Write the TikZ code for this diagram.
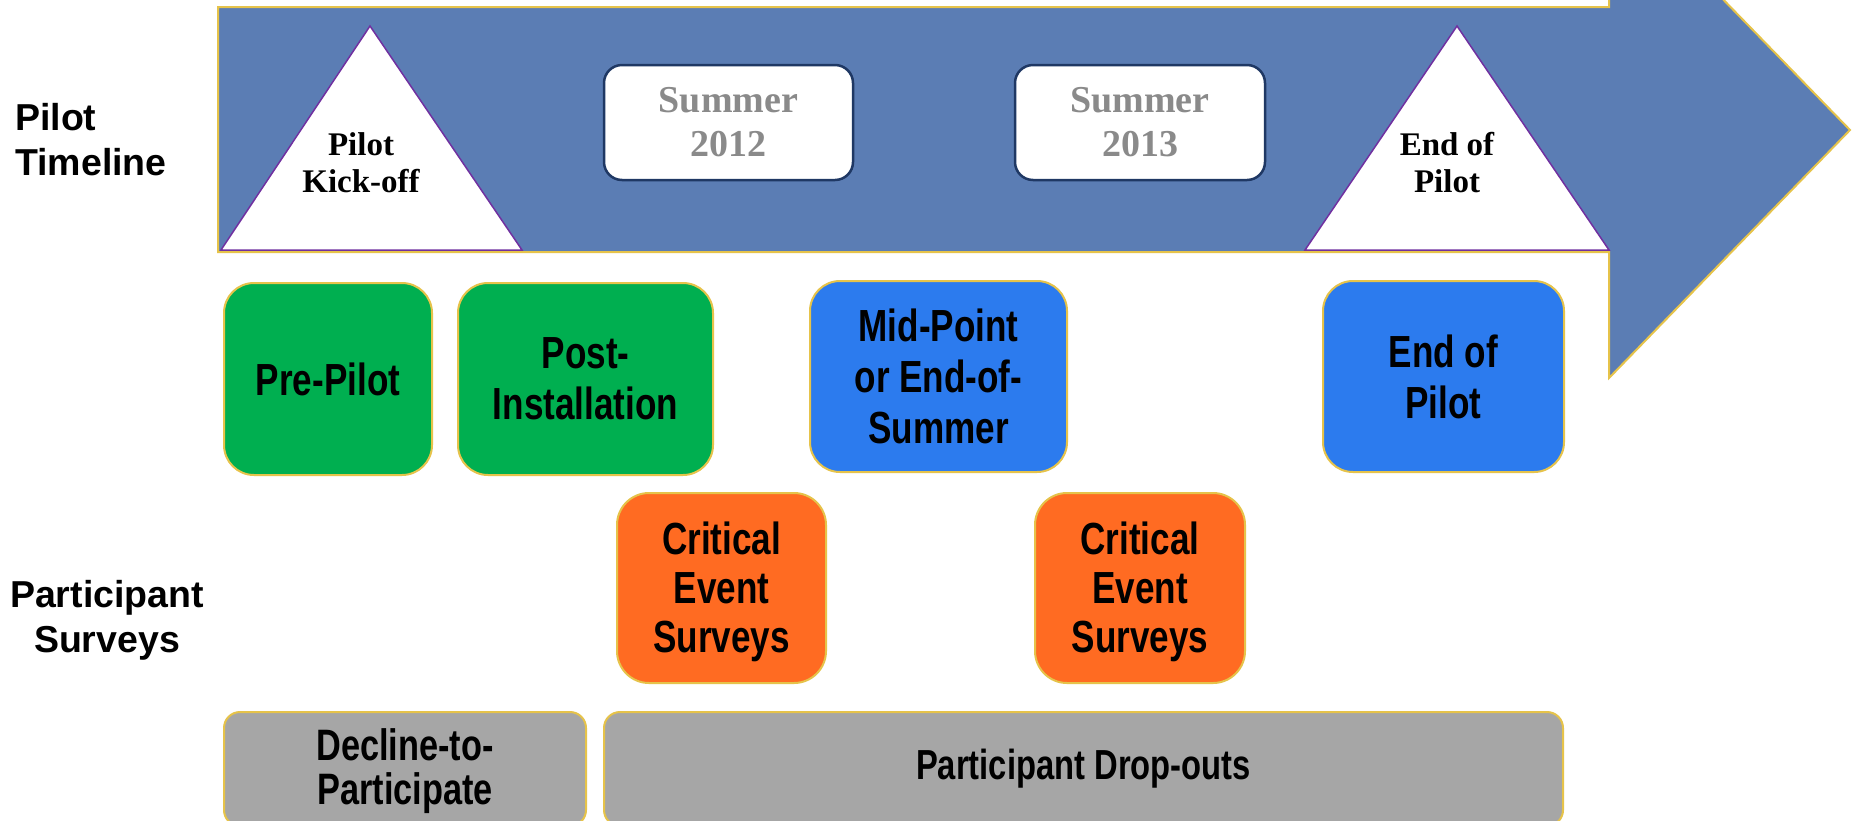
\documentclass[tikz,border=0pt]{standalone}
\usepackage{fontspec}
\newfontfamily\headfont{Liberation Sans}
\newfontfamily\boxfont{Liberation Sans}[FakeStretch=0.78]
\newfontfamily\markfont{Liberation Serif}
\definecolor{arrowblue}{HTML}{5B7DB4}
\definecolor{goldline}{HTML}{E6C34A}
\definecolor{markline}{HTML}{7030A0}
\definecolor{navyline}{HTML}{1F3864}
\definecolor{seasongrey}{HTML}{8A8A8A}
\definecolor{surveygreen}{HTML}{00AF50}
\definecolor{surveyblue}{HTML}{2C7BEE}
\definecolor{eventorange}{HTML}{FF6B22}
\definecolor{dropgrey}{HTML}{A6A6A6}
\tikzset{
  px/.style={x=1pt,y=-1pt},
  survey/.style={draw=goldline, line width=2pt, rounded corners=30pt,
    align=center, inner sep=0pt, text=black,
    font=\boxfont\bfseries\fontsize{45}{51}\selectfont},
  greenbox/.style={survey, fill=surveygreen},
  bluebox/.style={survey, fill=surveyblue},
  orangebox/.style={survey, fill=eventorange, rounded corners=32pt,
    font=\boxfont\bfseries\fontsize{45}{49}\selectfont},
  greybox/.style={survey, fill=dropgrey, rounded corners=16pt},
  season/.style={draw=navyline, line width=2.5pt, fill=white,
    rounded corners=18pt, align=center, inner sep=0pt, text=seasongrey,
    font=\markfont\bfseries\fontsize{38}{44}\selectfont},
  milestone/.style={draw=markline, line width=1.5pt, fill=white},
  marktext/.style={align=center, inner sep=0pt,
    font=\markfont\bfseries\fontsize{33}{37}\selectfont},
  rowlabel/.style={inner sep=0pt, font=\headfont\bfseries\fontsize{37.5}{45}\selectfont},
}
\begin{document}
\begin{tikzpicture}[px]
\useasboundingbox (0,0) rectangle (1852,820);
\clip (0,0) rectangle (1852,820);
\fill[white] (0,0) rectangle (1852,820);

% timeline arrow
\draw[fill=arrowblue, draw=goldline, line width=2pt]
  (218,7) -- (1609,7) -- (1609,-118) -- (1850,130) -- (1609,378)
  -- (1609,252) -- (218,252) -- cycle;

% milestones
\draw[milestone] (221,250) -- (370,26) -- (522,250) -- cycle;
\node[marktext] (kick) at (361,163) {Pilot\\Kick-off};
\draw[milestone] (1305,250) -- (1457,26) -- (1609,250) -- cycle;
\node[marktext] (endmark) at (1447,163) {End of\\Pilot};

% seasons
\node[season, minimum width=249pt, minimum height=115pt] (s12) at (728.5,122.5) {Summer\\2012};
\node[season, minimum width=250pt, minimum height=115pt] (s13) at (1140,122.5) {Summer\\2013};

% row labels
\node[rowlabel, anchor=west, align=left] (tl) at (15,140) {Pilot\\Timeline};
\node[rowlabel, align=center] (ps) at (107,620) {Participant\\Surveys};

% surveys
\node[greenbox, minimum width=208pt, minimum height=192pt] (pre) at (328,379) {Pre-Pilot};
\node[greenbox, minimum width=255pt, minimum height=192pt] (post) at (585.5,379) {Post-\\Installation};
\node[bluebox, minimum width=257pt, minimum height=191pt] (mid) at (938.5,376.5) {Mid-Point\\or End-of-\\Summer};
\node[bluebox, minimum width=241pt, minimum height=191pt] (endp) at (1443.5,376.5) {End of\\Pilot};
\node[orangebox, minimum width=209pt, minimum height=190pt] (crit1) at (721.5,588) {\rule{0pt}{41pt}Critical\\Event\\Surveys};
\node[orangebox, minimum width=210pt, minimum height=190pt] (crit2) at (1140,588) {\rule{0pt}{41pt}Critical\\Event\\Surveys};
\node[greybox, minimum width=362pt, minimum height=114pt,
  font=\boxfont\bfseries\fontsize{44}{44}\selectfont] (decline) at (405,769) {\rule{0pt}{36pt}Decline-to-\\Participate};
\node[greybox, minimum width=959pt, minimum height=114pt,
  font=\boxfont\bfseries\fontsize{42}{45}\selectfont] (drop) at (1083.5,769) {Participant Drop-outs};
\end{tikzpicture}
\end{document}
